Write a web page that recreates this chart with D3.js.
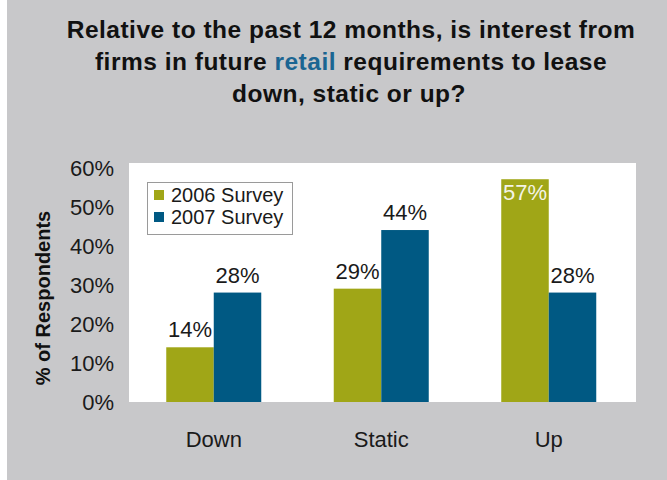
<!DOCTYPE html>
<html>
<head>
<meta charset="utf-8">
<script src="https://cdn.jsdelivr.net/npm/d3@7"></script>
<style>
  html, body { margin: 0; padding: 0; background: #ffffff; }
  svg { display: block; }
  text { font-family: "Liberation Sans", Arial, Helvetica, sans-serif; }
</style>
</head>
<body>
<svg id="chart" width="667" height="480"></svg>
<script>
// Survey results: interest in future retail requirements
const categories = ["Down", "Static", "Up"];
const seriesNames = ["2006 Survey", "2007 Survey"];
const values2006 = [14, 29, 57];
const values2007 = [28, 44, 28];
const yTicks = [0, 10, 20, 30, 40, 50, 60];

const colors = { "2006 Survey": "#a0a617", "2007 Survey": "#005983" };

const svg = d3.select("#chart");

// panel background
svg.append("rect").attr("x", 7).attr("y", 0).attr("width", 660).attr("height", 480).attr("fill", "#c8c8ca");

// title
const title = svg.append("text")
  .attr("text-anchor", "middle")
  .attr("font-weight", "bold")
  .attr("font-size", 24.5)
  .attr("letter-spacing", 0.5)
  .attr("fill", "#111");
title.append("tspan").attr("x", 351).attr("y", 37.5).text("Relative to the past 12 months, is interest from");
const l2 = title.append("tspan").attr("x", 351).attr("y", 70);
l2.append("tspan").text("firms in future ");
l2.append("tspan").attr("fill", "#1b6592").text("retail");
l2.append("tspan").text(" requirements to lease");
title.append("tspan").attr("x", 349).attr("y", 102).text("down, static or up?");

// plot area
const plot = { left: 129, right: 636, top: 163, bottom: 402 };
svg.append("rect")
  .attr("x", plot.left).attr("y", plot.top)
  .attr("width", plot.right - plot.left).attr("height", plot.bottom - plot.top)
  .attr("fill", "#ffffff");

const y = d3.scaleLinear().domain([0, 60]).range([402, 167.5]);
const x0 = d3.scaleBand().domain(categories).range([130, 632.5]);
const groupWidth = 95;
const x1 = d3.scaleBand().domain(seriesNames).range([0, groupWidth]);
const groupOffset = (x0.bandwidth() - groupWidth) / 2;

// y axis labels
const yAxis = d3.axisLeft(y).tickValues(yTicks).tickFormat(d => d + "%").tickSize(0).tickPadding(0);
const gy = svg.append("g").attr("transform", "translate(114,0)").call(yAxis);
gy.select(".domain").remove();
gy.selectAll("text")
  .attr("font-size", 22)
  .attr("fill", "#1a1a1a")
  .attr("dy", "0.36em")
  .style("font-family", "'Liberation Sans', Arial, sans-serif");

// x axis labels
const xAxis = d3.axisBottom(x0).tickSize(0).tickPadding(0);
const gx = svg.append("g").attr("transform", "translate(0,430)").call(xAxis);
gx.select(".domain").remove();
gx.selectAll("text")
  .attr("font-size", 22)
  .attr("fill", "#1a1a1a")
  .attr("dy", "0.75em")
  .style("font-family", "'Liberation Sans', Arial, sans-serif");

// y axis title
svg.append("text")
  .attr("transform", "translate(50,298) rotate(-90)")
  .attr("text-anchor", "middle")
  .attr("font-weight", "bold")
  .attr("font-size", 20)
  .attr("fill", "#111")
  .text("% of Respondents");

// bars
const rows = categories.map((c, i) => ({
  category: c,
  items: [
    { series: "2006 Survey", value: values2006[i] },
    { series: "2007 Survey", value: values2007[i] }
  ]
}));

const groups = svg.append("g").selectAll("g")
  .data(rows).join("g")
  .attr("transform", d => `translate(${x0(d.category) + groupOffset},0)`);

groups.selectAll("rect")
  .data(d => d.items).join("rect")
  .attr("x", d => x1(d.series))
  .attr("y", d => y(d.value))
  .attr("width", x1.bandwidth())
  .attr("height", d => y(0) - y(d.value))
  .attr("fill", d => colors[d.series]);

// value labels: inside the bar when it nearly reaches the top
groups.selectAll("text.val")
  .data(d => d.items).join("text")
  .attr("class", "val")
  .attr("x", d => x1(d.series) + x1.bandwidth() / 2)
  .attr("y", d => d.value > 50 ? y(d.value) + 21 : y(d.value) - 10)
  .attr("text-anchor", "middle")
  .attr("font-size", 22)
  .attr("fill", d => d.value > 50 ? "#f4f4e6" : "#1a1a1a")
  .text(d => d.value + "%");

// legend
const legend = svg.append("g").attr("transform", "translate(147,182)");
legend.append("rect")
  .attr("x", 0.5).attr("y", 0.5).attr("width", 145).attr("height", 52)
  .attr("fill", "#ffffff").attr("stroke", "#9a9a9a").attr("stroke-width", 1);
seriesNames.forEach((s, i) => {
  legend.append("rect")
    .attr("x", 7).attr("y", 8 + i * 22).attr("width", 10).attr("height", 10)
    .attr("fill", colors[s]);
  legend.append("text")
    .attr("x", 24).attr("y", 13 + i * 22).attr("dy", "0.36em")
    .attr("font-size", 20).attr("fill", "#1a1a1a")
    .text(s);
});
</script>
</body>
</html>
